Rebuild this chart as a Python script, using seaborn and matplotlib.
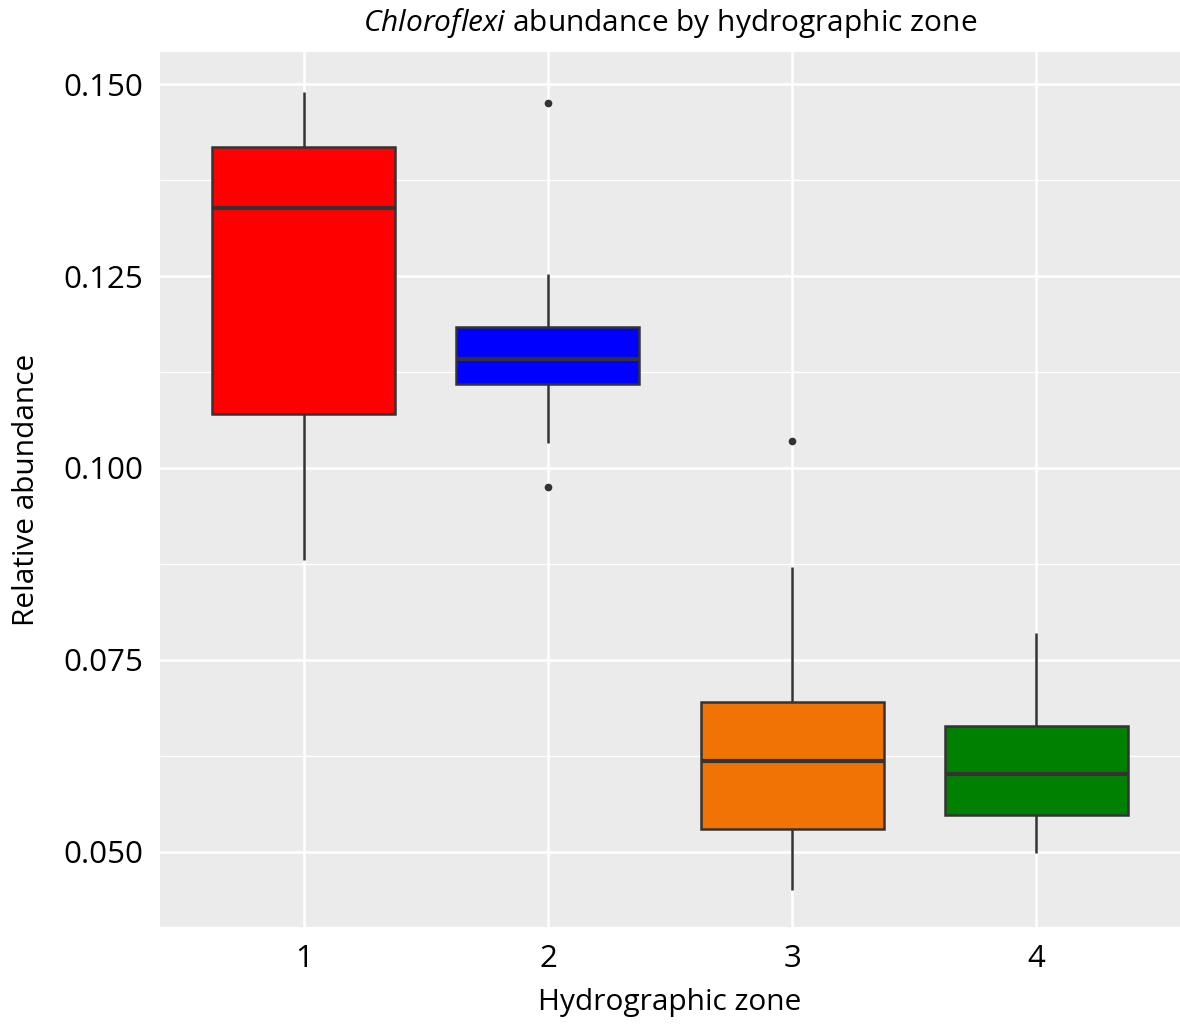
import numpy as np
import pandas as pd
import matplotlib
matplotlib.use("Agg")
import matplotlib.pyplot as plt
from matplotlib.ticker import MultipleLocator
import seaborn as sns

# Data (values per hydrographic zone)
zone1 = [0.0880, 0.1070, 0.1339, 0.1418, 0.1490]
zone2 = [0.0975, 0.1033, 0.1109, 0.1125, 0.1142, 0.1160, 0.1184, 0.1253, 0.1475]
zone3 = [0.0451, 0.0490, 0.0530, 0.0575, 0.0618, 0.0655, 0.0695, 0.0871, 0.1035]
zone4 = [0.0499, 0.0548, 0.0602, 0.0664, 0.0785]
zone_labels = ["1", "2", "3", "4"]
zone_colors = ["#FF0000", "#0000FF", "#F07304", "#008000"]

values = zone1 + zone2 + zone3 + zone4
zones = (["1"] * len(zone1) + ["2"] * len(zone2) +
         ["3"] * len(zone3) + ["4"] * len(zone4))
df = pd.DataFrame({"zone": zones, "abundance": values})

sns.set_theme(style="darkgrid", rc={"axes.facecolor": "#EBEBEB",
                                     "grid.color": "white"})
plt.rcParams["font.family"] = ["Open Sans", "DejaVu Sans"]
plt.rcParams["mathtext.fontset"] = "custom"
plt.rcParams["mathtext.rm"] = "Open Sans"
plt.rcParams["mathtext.it"] = "Open Sans:italic"
plt.rcParams["text.color"] = "black"
plt.rcParams["axes.labelcolor"] = "black"

fig = plt.figure(figsize=(11.8, 10.25), dpi=100)
ax = fig.add_axes([160 / 1180, 1 - 927 / 1025, 1 - 160 / 1180, (927 - 52) / 1025])

sns.boxplot(data=df, x="zone", y="abundance", hue="zone", order=zone_labels,
            hue_order=zone_labels, palette=zone_colors, legend=False,
            saturation=1, width=0.75, linecolor="#333333", linewidth=1.8,
            showcaps=False, fliersize=4.5,
            flierprops=dict(marker="o", markerfacecolor="#333333",
                            markeredgecolor="#333333"),
            medianprops=dict(linewidth=3, color="#333333"),
            ax=ax)

ax.set_ylim(0.04023, 0.15417)
ax.set_xlim(-0.59, 3.59)
ax.yaxis.set_major_locator(MultipleLocator(0.025))
ax.yaxis.set_minor_locator(MultipleLocator(0.0125))
ax.grid(which="major", axis="both", color="white", linewidth=1.8)
ax.grid(which="minor", axis="y", color="white", linewidth=1.0)
ax.set_axisbelow(True)
ax.set_yticks([0.050, 0.075, 0.100, 0.125, 0.150])
ax.set_yticklabels(["0.050", "0.075", "0.100", "0.125", "0.150"])
for s in ax.spines.values():
    s.set_visible(False)
ax.tick_params(axis="both", which="both", length=0, labelsize=22.5, colors="black")
ax.tick_params(axis="y", pad=12)
ax.tick_params(axis="x", pad=12)

ax.set_xlabel("Hydrographic zone", fontsize=21.5, labelpad=10)
ax.set_ylabel("Relative abundance", fontsize=21.5, labelpad=16)
ax.set_title(r"$\it{Chloroflexi}$ abundance by hydrographic zone",
             fontsize=21.5, pad=15)

fig.savefig("out.png", dpi=100)
